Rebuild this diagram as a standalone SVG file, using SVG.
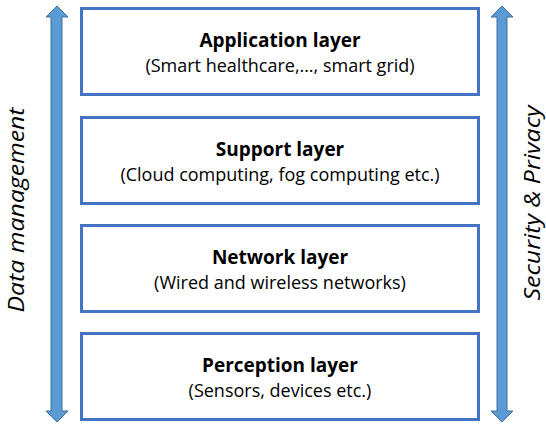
<svg xmlns="http://www.w3.org/2000/svg" width="546" height="424" viewBox="0 0 546 424">
<style>
.box{fill:#fff;stroke:#4472C4;stroke-width:3}
.arrow{fill:#5B9BD5;stroke:#41719C;stroke-width:1}
.t{font-family:"Open Sans","Liberation Sans",sans-serif;font-weight:bold;font-size:19px;fill:#000;text-anchor:middle}
.s{font-family:"Open Sans","Liberation Sans",sans-serif;font-size:18px;fill:#000;text-anchor:middle}
.side{font-family:"Open Sans","Liberation Sans",sans-serif;font-style:italic;font-size:22px;fill:#000;text-anchor:middle}
</style>
<rect width="546" height="424" fill="#fff"/>
<g id="connectors">
<polygon id="arrow-left" class="arrow" points="57,6 68,17 62,17 62,411 68,411 57,422 46,411 51,411 51,17 46,17"/>
<polygon id="arrow-right" class="arrow" points="502,6 513,17 507,17 507,411 513,411 502,422 491,411 497,411 497,17 491,17"/>
</g>
<g id="application">
<rect class="box" x="81.5" y="8.5" width="397" height="86"/>
<text class="t" x="280" y="47">Application layer</text>
<text class="s" x="280" y="72">(Smart healthcare,…, smart grid)</text>
</g>
<g id="support">
<rect class="box" x="81.5" y="117.5" width="397" height="86"/>
<text class="t" x="280" y="156">Support layer</text>
<text class="s" x="280" y="181">(Cloud computing, fog computing etc.)</text>
</g>
<g id="network">
<rect class="box" x="81.5" y="225.5" width="397" height="86"/>
<text class="t" x="280" y="264">Network layer</text>
<text class="s" x="280" y="289">(Wired and wireless networks)</text>
</g>
<g id="perception">
<rect class="box" x="81.5" y="333.5" width="397" height="86"/>
<text class="t" x="280" y="372">Perception layer</text>
<text class="s" x="280" y="397">(Sensors, devices etc.)</text>
</g>
<g id="data-management">
<text class="side" transform="translate(24,210) rotate(-90)" textLength="205" lengthAdjust="spacingAndGlyphs">Data management</text>
</g>
<g id="security-privacy">
<text class="side" transform="translate(540,203) rotate(-90)" textLength="195" lengthAdjust="spacingAndGlyphs">Security &amp; Privacy</text>
</g>
</svg>
